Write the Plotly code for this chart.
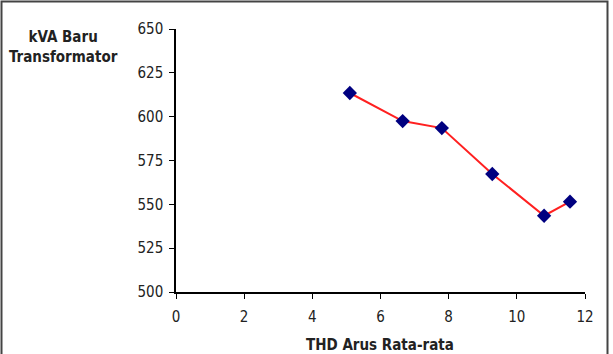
import plotly.graph_objects as go

thd = [5.1, 6.65, 7.8, 9.28, 10.8, 11.56]
kva = [613.5, 597.5, 593.5, 567.3, 543.5, 551.5]
x_ticks = [0, 2, 4, 6, 8, 10, 12]
y_ticks = [500, 525, 550, 575, 600, 625, 650]

W, H = 613, 354
L, R, T, B = 176, 28, 29, 62
pw, ph = W - L - R, H - T - B


def px(x):
    return (x - L) / pw


def py(y):
    return (T + ph - y) / ph


fig = go.Figure()
fig.add_trace(go.Scatter(
    x=thd, y=kva, mode="lines+markers",
    line=dict(color="#FF2020", width=2),
    marker=dict(symbol="diamond", size=11, color="#000080"),
    showlegend=False,
))

font = "DejaVu Sans Condensed, Tahoma, sans-serif"
fig.update_layout(
    width=W, height=H,
    margin=dict(l=L, r=R, t=T, b=B),
    paper_bgcolor="white", plot_bgcolor="white",
    font=dict(family=font, size=15, color="#222"),
    xaxis=dict(range=[0, 12], tickvals=x_ticks, showgrid=False, zeroline=False,
               showline=True, linecolor="black", linewidth=1.5,
               ticks="outside", ticklen=5, tickcolor="black",
               ticklabelstandoff=5, tickfont=dict(size=15)),
    yaxis=dict(range=[500, 650], tickvals=y_ticks, showgrid=False, zeroline=False,
               showline=True, linecolor="black", linewidth=1.5,
               ticks="outside", ticklen=5, tickcolor="black",
               ticklabelstandoff=3, tickfont=dict(size=15)),
    annotations=[
        dict(text="<b>kVA Baru<br>Transformator</b>", xref="paper", yref="paper",
             x=px(63), y=py(47), xanchor="center", yanchor="middle", showarrow=False,
             font=dict(size=15, family=font, color="#222")),
        dict(text="<b>THD Arus Rata-rata</b>", xref="paper", yref="paper",
             x=px(380), y=py(345), xanchor="center", yanchor="middle", showarrow=False,
             font=dict(size=15, family=font, color="#222")),
    ],
    shapes=[dict(
        type="rect", xref="paper", yref="paper",
        x0=px(1.5), x1=px(607.5), y0=py(H + 5), y1=py(1.5),
        line=dict(color="#444", width=2),
    )],
)

fig.write_html("out.html")
